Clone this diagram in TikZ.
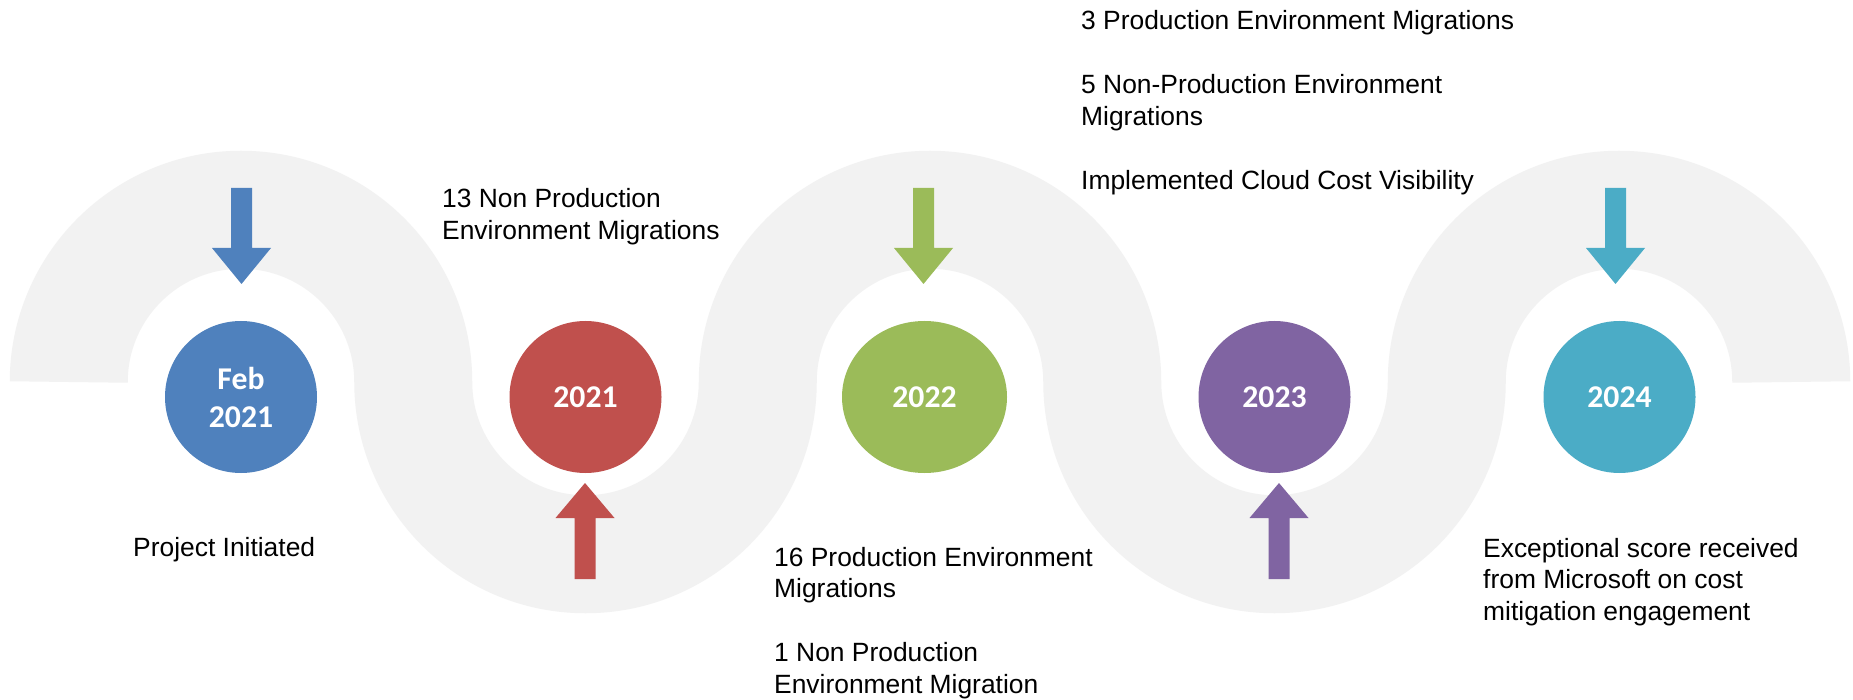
\documentclass[tikz,border=0pt]{standalone}
\usepackage{fontspec}
\setmainfont{Liberation Sans}
\newfontfamily\yearfont{Carlito}
\usetikzlibrary{shapes.geometric}
\definecolor{bandgrey}{HTML}{F2F2F2}
\definecolor{cblue}{HTML}{4F81BD}
\definecolor{cred}{HTML}{C0504D}
\definecolor{cgreen}{HTML}{9BBB59}
\definecolor{cpurple}{HTML}{8064A2}
\definecolor{caqua}{HTML}{4BACC6}
\begin{document}
\begin{tikzpicture}[x=1pt,y=1pt,
  bandline/.style={draw=bandgrey, line width=118pt, line cap=butt},
  year/.style={circle, inner sep=0pt, minimum size=152pt, text=white,
    font=\yearfont\bfseries\fontsize{31.7}{38}\selectfont, align=center},
  lbl/.style={anchor=base west, inner sep=0pt, text=black,
    font=\fontsize{26.4}{31.7}\selectfont},
  downarrow/.pic={\fill[#1] (-10.5,0) -- (10.5,0) -- (10.5,-60) -- (29.5,-60)
    -- (0,-96) -- (-29.5,-60) -- (-10.5,-60) -- cycle;},
  uparrow/.pic={\fill[#1] (0,0) -- (29.5,-35) -- (10.5,-35) -- (10.5,-96)
    -- (-10.5,-96) -- (-10.5,-35) -- (-29.5,-35) -- cycle;}
]
\fill[white] (0,0) rectangle (1853,-700);
\useasboundingbox (0,0) rectangle (1853,-700);

% winding grey band
\draw[bandline] (68.75,-382)
  arc[start angle=180, end angle=0, radius=172.25]
  arc[start angle=180, end angle=360, radius=172.25]
  arc[start angle=180, end angle=0, radius=172.25]
  arc[start angle=180, end angle=360, radius=172.25]
  arc[start angle=180, end angle=0, radius=172.25];

% milestones
\node[year, fill=cblue]   (feb) at (241,-397)   {Feb\\2021};
\node[year, fill=cred]    (y21) at (585.5,-397) {2021};
\node[year, ellipse, minimum width=165pt, minimum height=152pt, fill=cgreen]
                          (y22) at (924.5,-397) {2022};
\node[year, fill=cpurple] (y23) at (1274.5,-397) {2023};
\node[year, fill=caqua]   (y24) at (1619.5,-397) {2024};

% block arrows
\pic at (241.5,-188)  {downarrow=cblue};
\pic at (585,-483)    {uparrow=cred};
\pic at (923.5,-188)  {downarrow=cgreen};
\pic at (1279,-483)   {uparrow=cpurple};
\pic at (1615.5,-188) {downarrow=caqua};

% labels
\node[lbl] (t0) at (133,-556) {Project Initiated};
\node[lbl] (t1) at (442,-208) {\begin{tabular}[t]{@{}l@{}}13 Non Production\\Environment Migrations\end{tabular}};
\node[lbl] (t2) at (774,-566) {\begin{tabular}[t]{@{}l@{}}16 Production Environment\\Migrations\\[32pt]1 Non Production\\Environment Migration\end{tabular}};
\node[lbl] (t3) at (1081,-30) {\begin{tabular}[t]{@{}l@{}}3 Production Environment Migrations\\[32pt]5 Non-Production Environment\\Migrations\\[32pt]Implemented Cloud Cost Visibility\end{tabular}};
\node[lbl] (t4) at (1483,-557) {\begin{tabular}[t]{@{}l@{}}Exceptional score received\\from Microsoft on cost\\mitigation engagement\end{tabular}};
\end{tikzpicture}
\end{document}
